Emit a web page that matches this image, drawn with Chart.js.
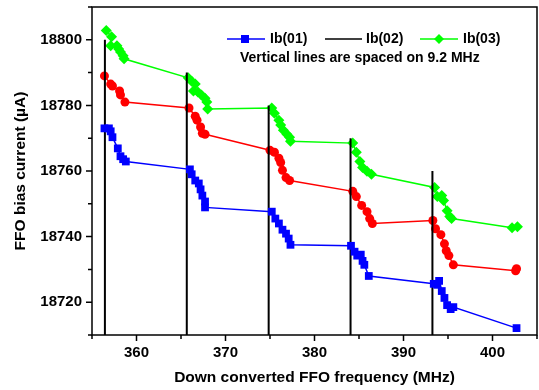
<!DOCTYPE html>
<html>
<head>
<meta charset="utf-8">
<script src="https://cdn.jsdelivr.net/npm/chart.js@4/dist/chart.umd.min.js"></script>
<style>
  html, body { margin: 0; padding: 0; background: #fff; }
</style>
</head>
<body>
<canvas id="chart" width="539" height="390"></canvas>
<script>
// Ib(01) - blue squares
const ib01Freq = [356.4, 356.9, 357.1, 357.3, 357.9, 358.2, 358.5, 358.8,
                  366.0, 366.2, 366.6, 367.0, 367.2, 367.4, 367.7, 367.7,
                  375.2, 375.6, 376.0, 376.4, 376.8, 377.1, 377.3,
                  384.1, 384.5, 384.8, 385.2, 385.4, 385.6, 386.1,
                  393.4, 393.8, 394.0, 394.3, 394.6, 394.9, 395.3, 395.6,
                  402.7];
const ib01Current = [18773.0, 18773.0, 18772.1, 18770.3, 18766.9, 18764.5, 18763.6, 18762.9,
                     18760.5, 18759.0, 18757.1, 18756.2, 18754.4, 18752.5, 18750.7, 18748.9,
                     18747.6, 18745.5, 18744.0, 18742.1, 18740.9, 18739.4, 18737.5,
                     18737.2, 18735.4, 18734.2, 18734.5, 18732.6, 18731.4, 18728.0,
                     18725.6, 18725.3, 18726.5, 18723.4, 18721.3, 18719.1, 18717.9, 18718.5,
                     18712.1];

// unlabelled red circles
const redFreq = [356.4, 357.1, 357.3, 358.1, 358.2, 358.7,
                 365.9, 366.6, 366.8, 367.2, 367.4, 367.7,
                 375.0, 375.5, 376.0, 376.2, 376.4, 376.8, 377.2,
                 384.3, 384.7, 385.3, 385.9, 386.2, 386.5,
                 393.3, 393.6, 394.2, 394.6, 394.8, 395.1, 395.6,
                 402.6, 402.7];
const redCurrent = [18789.0, 18786.5, 18785.9, 18784.4, 18783.2, 18781.0,
                    18779.2, 18776.7, 18775.5, 18773.4, 18771.5, 18771.2,
                    18766.3, 18765.7, 18763.9, 18762.6, 18760.2, 18758.0, 18757.1,
                    18753.8, 18752.2, 18749.5, 18747.6, 18745.5, 18744.0,
                    18744.9, 18742.4, 18740.6, 18737.8, 18735.7, 18734.2, 18731.4,
                    18729.6, 18730.2];

// Ib(03) - green diamonds
const ib03Freq = [356.6, 357.2, 357.1, 357.8, 358.0, 358.2, 358.5, 358.6,
                  365.8, 366.2, 366.6, 366.4, 366.9, 367.3, 367.7, 367.9, 368.0,
                  375.2, 375.5, 376.0, 376.2, 376.5, 376.9, 377.2, 377.3,
                  384.3, 384.7, 385.1, 385.4, 385.9, 386.4,
                  393.5, 393.8, 394.3, 394.5, 394.9, 395.2, 395.4,
                  402.2, 402.8];
const ib03Current = [18802.8, 18800.9, 18798.2, 18798.2, 18797.2, 18796.3, 18795.1, 18794.2,
                     18788.4, 18787.4, 18786.5, 18784.4, 18784.1, 18783.2, 18782.2, 18781.0, 18778.9,
                     18779.2, 18777.6, 18775.5, 18774.0, 18772.4, 18771.2, 18770.3, 18769.1,
                     18768.5, 18765.7, 18762.9, 18761.1, 18759.9, 18759.0,
                     18755.0, 18752.2, 18752.5, 18751.0, 18747.9, 18746.1, 18745.5,
                     18742.7, 18743.0];

// Ib(02) - vertical lines, spaced on 9.2 MHz
const verticalLineFreq = [356.45, 365.65, 374.85, 384.05, 393.25];
const verticalLineTop = [18800, 18790, 18780, 18770, 18760];

const xMin = 355, xMax = 405;
const yMin = 18710, yMax = 18810;

const FONT = "'Liberation Sans', Arial, sans-serif";

function toPoints(xs, ys) {
    return xs.map((x, i) => ({x: x, y: ys[i]}));
}

const verticalPoints = [];
verticalLineFreq.forEach((f, i) => {
    verticalPoints.push({x: f, y: yMin});
    verticalPoints.push({x: f, y: verticalLineTop[i]});
    verticalPoints.push({x: f, y: null});
});

// frame, outer ticks and the legend box
const decorations = {
    id: 'decorations',
    afterDraw(chart) {
        const {ctx, chartArea: a, scales: {x, y}} = chart;
        ctx.save();
        ctx.strokeStyle = '#000';
        ctx.lineWidth = 1.5;
        ctx.strokeRect(a.left, a.top, a.right - a.left, a.bottom - a.top);

        ctx.beginPath();
        for (let v = xMin; v <= xMax; v += 5) {
            const px = x.getPixelForValue(v);
            const len = v % 10 === 0 ? 6 : 4;
            ctx.moveTo(px, a.bottom);
            ctx.lineTo(px, a.bottom + len);
        }
        for (let v = yMin; v <= yMax; v += 10) {
            const py = y.getPixelForValue(v);
            const len = v % 20 === 0 ? 6 : 4;
            ctx.moveTo(a.left, py);
            ctx.lineTo(a.left - len, py);
        }
        ctx.stroke();

        // legend
        ctx.font = 'bold 14px ' + FONT;
        ctx.textBaseline = 'middle';
        ctx.fillStyle = '#000';
        const ly = 39;

        ctx.strokeStyle = '#0000ff';
        ctx.beginPath(); ctx.moveTo(227, ly); ctx.lineTo(265, ly); ctx.stroke();
        ctx.fillStyle = '#0000ff';
        ctx.fillRect(241, ly - 4, 8, 8);
        ctx.fillStyle = '#000';
        ctx.fillText('Ib(01)', 270, ly);

        ctx.strokeStyle = '#000';
        ctx.beginPath(); ctx.moveTo(325, ly); ctx.lineTo(362, ly); ctx.stroke();
        ctx.fillText('Ib(02)', 366, ly);

        ctx.strokeStyle = '#00ff00';
        ctx.beginPath(); ctx.moveTo(420, ly); ctx.lineTo(458, ly); ctx.stroke();
        ctx.fillStyle = '#00ff00';
        ctx.beginPath();
        ctx.moveTo(439, ly - 5); ctx.lineTo(444, ly); ctx.lineTo(439, ly + 5); ctx.lineTo(434, ly);
        ctx.closePath(); ctx.fill();
        ctx.fillStyle = '#000';
        ctx.fillText('Ib(03)', 463, ly);

        ctx.fillText('Vertical lines are spaced on 9.2 MHz', 240, 58);
        ctx.restore();
    }
};

const ctx = document.getElementById('chart');
const chart = new Chart(ctx, {
    type: 'scatter',
    data: {
        datasets: [{
            label: 'Ib(01)',
            data: toPoints(ib01Freq, ib01Current),
            showLine: true,
            borderColor: '#0000ff',
            backgroundColor: '#0000ff',
            borderWidth: 1.5,
            pointStyle: 'rect',
            pointRadius: 5.5,
            pointBorderWidth: 0
        }, {
            label: 'Ib(02)',
            data: verticalPoints,
            showLine: true,
            spanGaps: false,
            borderColor: '#000',
            borderWidth: 2,
            pointRadius: 0
        }, {
            label: 'Ib(03)',
            data: toPoints(ib03Freq, ib03Current),
            showLine: true,
            borderColor: '#00ff00',
            backgroundColor: '#00ff00',
            borderWidth: 1.5,
            pointStyle: 'rectRot',
            pointRadius: 5.5,
            pointBorderWidth: 0
        }, {
            label: '',
            data: toPoints(redFreq, redCurrent),
            showLine: true,
            borderColor: '#ff0000',
            backgroundColor: '#ff0000',
            borderWidth: 1.5,
            pointStyle: 'circle',
            pointRadius: 4.5,
            pointBorderWidth: 0
        }]
    },
    options: {
        responsive: false,
        animation: false,
        layout: {
            autoPadding: false,
            padding: {left: 0, top: 7, right: 2, bottom: 0}
        },
        plugins: {
            legend: {display: false},
            tooltip: {enabled: false}
        },
        scales: {
            x: {
                type: 'linear',
                min: xMin,
                max: xMax,
                grid: {display: false, drawTicks: false},
                border: {display: false},
                afterFit: (scale) => {
                    scale.height = 55;
                    scale.paddingLeft = 0;
                    scale.paddingRight = 0;
                },
                ticks: {
                    stepSize: 5,
                    padding: 9,
                    color: '#000',
                    font: {family: FONT, size: 15, weight: 'bold'},
                    callback: (v) => v % 10 === 0 ? v : ''
                },
                title: {
                    display: true,
                    text: 'Down converted FFO frequency (MHz)',
                    color: '#000',
                    font: {family: FONT, size: 15.5, weight: 'bold'},
                    padding: {top: 0, bottom: 3}
                }
            },
            y: {
                type: 'linear',
                min: yMin,
                max: yMax,
                grid: {display: false, drawTicks: false},
                border: {display: false},
                afterFit: (scale) => {
                    scale.width = 92;
                    scale.paddingTop = 0;
                    scale.paddingBottom = 0;
                },
                ticks: {
                    stepSize: 10,
                    padding: 10,
                    color: '#000',
                    font: {family: FONT, size: 15, weight: 'bold'},
                    callback: (v) => (v % 20 === 0 && v > yMin && v < yMax) ? v : ''
                },
                title: {
                    display: true,
                    text: 'FFO bias current (µA)',
                    color: '#000',
                    font: {family: FONT, size: 15.5, weight: 'bold'},
                    padding: {top: 11, bottom: 0}
                }
            }
        }
    },
    plugins: [decorations]
});
</script>
</body>
</html>
